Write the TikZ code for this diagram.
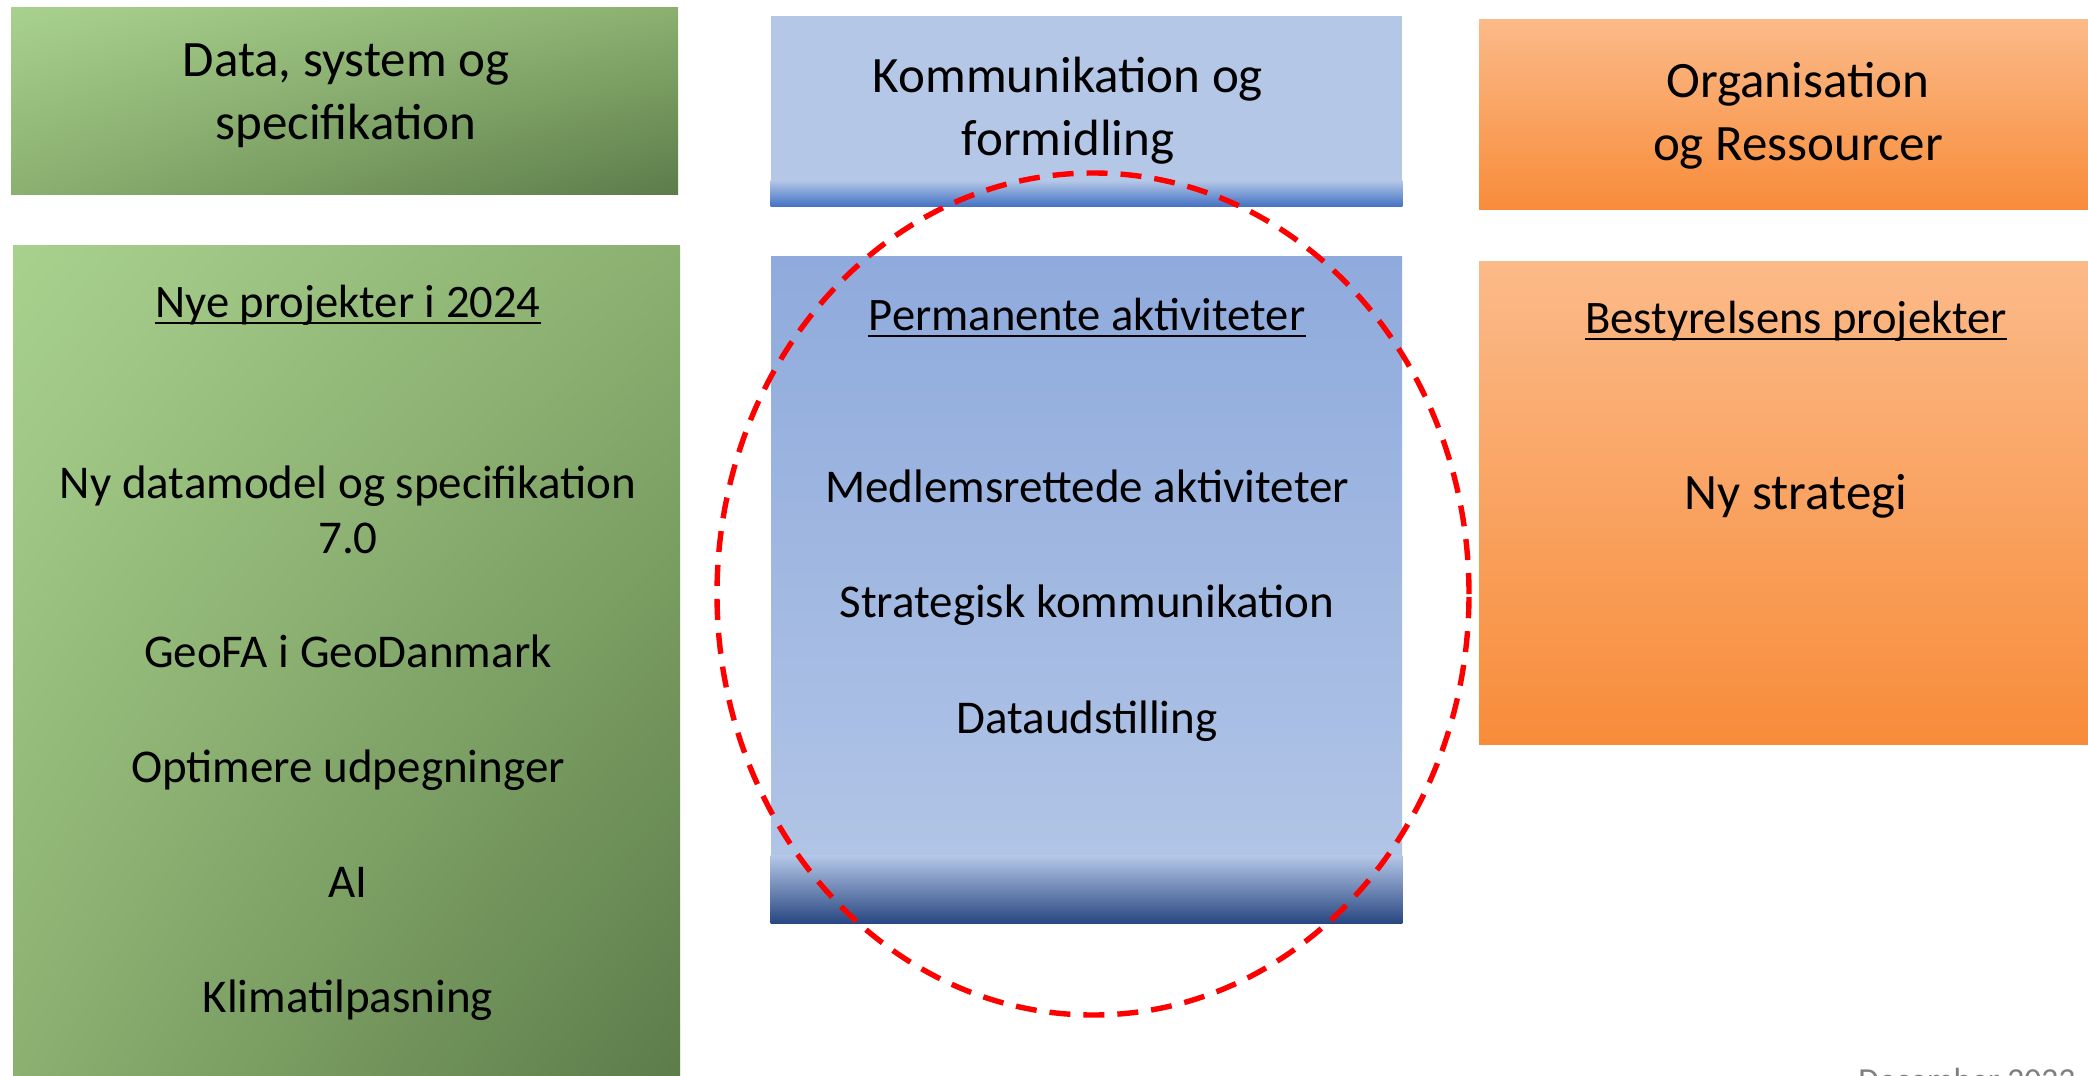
\documentclass[tikz,border=0pt]{standalone}
\usepackage{fontspec}
\usetikzlibrary{shadings}
\setmainfont{Carlito}
\definecolor{gL}{HTML}{A9D18E}
\definecolor{gM}{HTML}{8BB070}
\definecolor{gD}{HTML}{5C7C4A}
\definecolor{bTop}{HTML}{8FAADC}
\definecolor{bLight}{HTML}{B4C7E7}
\definecolor{bMid}{HTML}{4472C4}
\definecolor{bDark}{HTML}{284781}
\definecolor{oL}{HTML}{FBBA89}
\definecolor{oD}{HTML}{F88C3A}
\definecolor{dategray}{HTML}{7F7F7F}
\definecolor{ringred}{HTML}{FF0000}
\begin{document}
\begin{tikzpicture}[x=0.5pt,y=-0.5pt,
  greenbox/.style={shade, upper left=gL, lower right=gD, upper right=gM, lower left=gM, minimum width=333.5pt, inner sep=0pt},
  orangebox/.style={shade, top color=oL, bottom color=oD, minimum width=308pt, inner sep=0pt},
  hdr/.style={font=\fontsize{25.5}{31.5}\selectfont, align=center, inner sep=0pt},
  subhdr/.style={font=\fontsize{23.3}{28}\selectfont, inner sep=0pt, anchor=base},
  item/.style={font=\fontsize{23.5}{27.5}\selectfont, align=center, inner sep=0pt},
  uline/.style={line width=1pt, black},
  ring/.style={draw=ringred, line width=2.7pt, dash pattern=on 10.5pt off 6.5pt}
]
\useasboundingbox (0,0) rectangle (2088,1076);
\clip (0,0) rectangle (2088,1076);
\fill[white] (0,0) rectangle (2088,1076);

% green column
\node[greenbox, minimum height=93.5pt] (gtop) at (344.5,100.5) {};
\node[greenbox, minimum height=417.5pt] (gbot) at (346.5,662.5) {};
% blue column
\node[fill=bLight, minimum width=315.5pt, minimum height=95pt, inner sep=0pt] (btop) at (1086.5,111) {};
\shade[top color=bLight, bottom color=bMid] ([yshift=13pt]btop.south west) rectangle (btop.south east);
\node[shade, top color=bTop, bottom color=bLight, minimum width=315.5pt, minimum height=333.5pt, inner sep=0pt] (bbot) at (1086.5,589.5) {};
\shade[top color=bLight, bottom color=bDark] ([yshift=34pt]bbot.south west) rectangle (bbot.south east);
% orange column
\node[orangebox, minimum height=95pt] (otop) at (1787,114) {};
\node[orangebox, minimum height=241.5pt] (obot) at (1787,502.5) {};

% headers
\node[hdr] (t1) at (346,96) {Data, system og\\specifikation};
\node[hdr] (t2) at (1068,111) {Kommunikation og\\formidling};
\node[hdr] (t3) at (1798,116) {Organisation\\og Ressourcer};

% sub headers
\node[subhdr] (s1) at (348,317) {Nye projekter i 2024};
\draw[uline] ([yshift=-3pt]s1.base west) -- ([yshift=-3pt]s1.base east);
\node[subhdr] (s2) at (1087,330) {Permanente aktiviteter};
\draw[uline] ([yshift=-3pt]s2.base west) -- ([yshift=-3pt]s2.base east);
\node[subhdr] (s3) at (1796,333) {Bestyrelsens projekter};
\draw[uline] ([yshift=-3pt]s3.base west) -- ([yshift=-3pt]s3.base east);

% green items
\node[item] (g1) at (348,510) {Ny datamodel og specifikation\\7.0};
\node[item, anchor=base] (g2) at (348,667) {GeoFA i GeoDanmark};
\node[item, anchor=base] (g3) at (348,782) {Optimere udpegninger};
\node[item, anchor=base] (g4) at (348,897) {AI};
\node[item, anchor=base] (g5) at (348,1012) {Klimatilpasning};

% blue items
\node[item, anchor=base] (b1) at (1087,502) {Medlemsrettede aktiviteter};
\node[item, anchor=base] (b2) at (1087,617) {Strategisk kommunikation};
\node[item, anchor=base] (b3) at (1087,733) {Dataudstilling};

% orange item
\node[item, font=\fontsize{25.5}{30}\selectfont, anchor=base] (o1) at (1796,509) {Ny strategi};

% red dashed ring
\coordinate (rc) at (1093,594);
\draw[ring] (rc) ellipse [x radius=188pt, y radius=210.5pt];

% date, cut by the lower edge as in the reference
\node[font=\fontsize{16.8}{20}\selectfont, text=dategray, anchor=base west, inner sep=0pt] (date) at (1858,1091) {December 2023};
\end{tikzpicture}
\end{document}
